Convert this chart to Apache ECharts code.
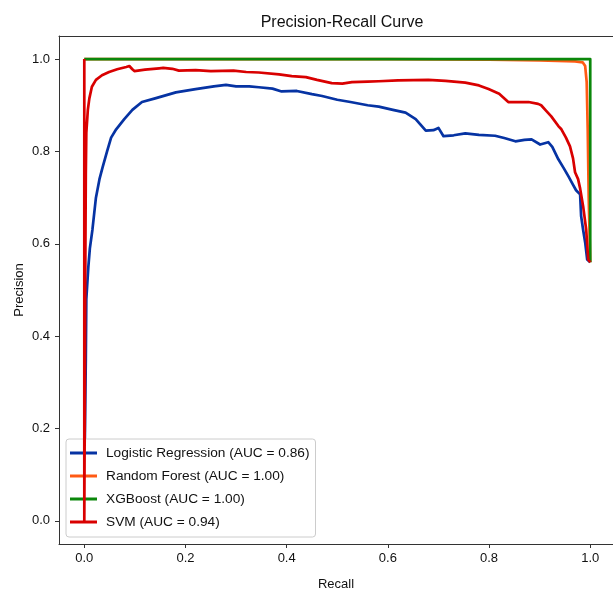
<!DOCTYPE html>
<html>
<head>
<meta charset="utf-8">
<title>Precision-Recall Curve</title>
<script src="https://cdn.jsdelivr.net/npm/echarts@6/dist/echarts.min.js"></script>
<style>
  html, body { margin: 0; padding: 0; background: #ffffff; }
  #chart { width: 613px; height: 592px; }
</style>
</head>
<body>
<div id="chart"></div>
<script>
// Tick positions shared by both axes
const tickValues = [0.0, 0.2, 0.4, 0.6, 0.8, 1.0];

const seriesNames = [
  'Logistic Regression (AUC = 0.86)',
  'Random Forest (AUC = 1.00)',
  'XGBoost (AUC = 1.00)',
  'SVM (AUC = 0.94)'
];

// [recall, precision] pairs per model
const logisticCurve = [
  [0.001, 0.17], [0.003, 0.35], [0.004, 0.48], [0.008, 0.55], [0.011, 0.59],
  [0.016, 0.63], [0.023, 0.70], [0.030, 0.74], [0.036, 0.765], [0.045, 0.80],
  [0.053, 0.83], [0.063, 0.848], [0.079, 0.87], [0.095, 0.89], [0.114, 0.907],
  [0.14, 0.915], [0.181, 0.928], [0.22, 0.935], [0.256, 0.941], [0.28, 0.944],
  [0.30, 0.941], [0.326, 0.941], [0.345, 0.939], [0.372, 0.936], [0.39, 0.93],
  [0.42, 0.931], [0.45, 0.924], [0.47, 0.92], [0.50, 0.912], [0.526, 0.907],
  [0.56, 0.90], [0.582, 0.897], [0.61, 0.89], [0.635, 0.884], [0.655, 0.87],
  [0.675, 0.845], [0.69, 0.846], [0.70, 0.851], [0.71, 0.833], [0.73, 0.835],
  [0.753, 0.839], [0.78, 0.836], [0.812, 0.834], [0.83, 0.829], [0.852, 0.822],
  [0.87, 0.825], [0.884, 0.826], [0.901, 0.815], [0.917, 0.82], [0.925, 0.81],
  [0.937, 0.783], [0.947, 0.765], [0.957, 0.746], [0.965, 0.73], [0.972, 0.716],
  [0.98, 0.707], [0.982, 0.66], [0.986, 0.63], [0.99, 0.603], [0.994, 0.566],
  [1.0, 0.56]
];

const forestCurve = [
  [0.0, 1.0], [0.6, 1.0], [0.8, 0.999], [0.9, 0.997], [0.97, 0.995],
  [0.985, 0.993], [0.99, 0.985], [0.993, 0.95], [0.995, 0.85], [0.997, 0.7],
  [1.0, 0.56]
];

const xgboostCurve = [
  [0.0, 1.0], [0.5, 1.0], [0.95, 1.0], [0.99, 1.0], [1.0, 1.0], [1.0, 0.56]
];

const svmCurve = [
  [0.0, 1.0], [0.0, 0.0], [0.001, 0.25], [0.002, 0.55], [0.003, 0.75],
  [0.004, 0.84], [0.007, 0.89], [0.01, 0.915], [0.015, 0.94], [0.023, 0.955],
  [0.035, 0.965], [0.049, 0.972], [0.065, 0.978], [0.083, 0.983], [0.089, 0.985],
  [0.095, 0.978], [0.099, 0.974], [0.12, 0.977], [0.148, 0.98], [0.156, 0.981],
  [0.174, 0.979], [0.187, 0.975], [0.22, 0.976], [0.25, 0.974], [0.295, 0.975],
  [0.32, 0.972], [0.345, 0.971], [0.385, 0.967], [0.41, 0.963], [0.438, 0.961],
  [0.46, 0.955], [0.489, 0.948], [0.51, 0.947], [0.529, 0.95], [0.56, 0.951],
  [0.582, 0.952], [0.62, 0.954], [0.68, 0.955], [0.714, 0.953], [0.753, 0.949],
  [0.78, 0.943], [0.799, 0.935], [0.82, 0.925], [0.838, 0.907], [0.86, 0.907],
  [0.878, 0.907], [0.897, 0.903], [0.903, 0.9], [0.913, 0.888], [0.923, 0.876],
  [0.937, 0.855], [0.943, 0.848], [0.952, 0.83], [0.96, 0.811], [0.966, 0.785],
  [0.97, 0.755], [0.976, 0.74], [0.98, 0.72], [0.986, 0.681], [0.992, 0.631],
  [0.996, 0.566], [1.0, 0.56]
];

const curveColors = ['#0633a3', '#ff5a14', '#0b870b', '#d90000'];
const curves = [logisticCurve, forestCurve, xgboostCurve, svmCurve];

const FONT = '"Liberation Sans", Arial, sans-serif';
const SPINE = { color: '#333', width: 1 };

function makeAxis(name, nameGap, labelMargin, max) {
  return {
    type: 'value',
    min: -0.05,
    max: max,
    name: name,
    nameLocation: 'middle',
    nameGap: nameGap,
    nameMoveOverlap: false,
    nameTextStyle: { fontFamily: FONT, fontSize: 13, color: '#111' },
    axisLine: { show: true, onZero: false, lineStyle: SPINE },
    axisTick: {
      show: true, inside: false, length: 4,
      lineStyle: SPINE,
      customValues: tickValues
    },
    axisLabel: {
      fontFamily: FONT, fontSize: 13, color: '#111', margin: labelMargin,
      customValues: tickValues,
      formatter: v => v.toFixed(1)
    },
    splitLine: { show: false }
  };
}

const chart = echarts.init(document.getElementById('chart'), null, { renderer: 'canvas' });

chart.setOption({
  backgroundColor: '#ffffff',
  animation: false,
  title: {
    text: 'Precision-Recall Curve',
    left: 337,
    top: 10,
    textAlign: 'center',
    textStyle: { fontFamily: FONT, fontSize: 16, fontWeight: 'normal', color: '#111' }
  },
  // the plot frame runs past the right edge of the canvas, so the x range is cut at 1.045
  grid: {
    left: 59, top: 36, right: 0, bottom: 48,
    show: false, containLabel: false, outerBoundsMode: 'none'
  },
  xAxis: [
    makeAxis('Recall', 34, 8, 1.045),
    {
      // top spine
      type: 'value', position: 'top', min: -0.05, max: 1.045,
      axisLine: { show: true, onZero: false, lineStyle: SPINE },
      axisTick: { show: false }, axisLabel: { show: false }, splitLine: { show: false }
    }
  ],
  yAxis: makeAxis('Precision', 33, 9, 1.05),
  legend: {
    orient: 'vertical',
    left: 66,
    top: 439,
    padding: [6, 6, 7, 4],
    itemWidth: 27,
    itemHeight: 3,
    itemGap: 7,
    icon: 'rect',
    backgroundColor: 'rgba(255,255,255,0.8)',
    borderColor: '#cccccc',
    borderWidth: 1,
    borderRadius: 3,
    textStyle: { fontFamily: FONT, fontSize: 13.7, color: '#111', lineHeight: 16, padding: [0, 0, 0, 4] },
    data: seriesNames
  },
  series: curves.map((data, i) => ({
    name: seriesNames[i],
    type: 'line',
    xAxisIndex: 0,
    data: data,
    showSymbol: false,
    symbol: 'none',
    color: curveColors[i],
    lineStyle: { width: 2.7, color: curveColors[i], cap: 'butt', join: 'round' },
    z: 2 + i
  }))
});
</script>
</body>
</html>
